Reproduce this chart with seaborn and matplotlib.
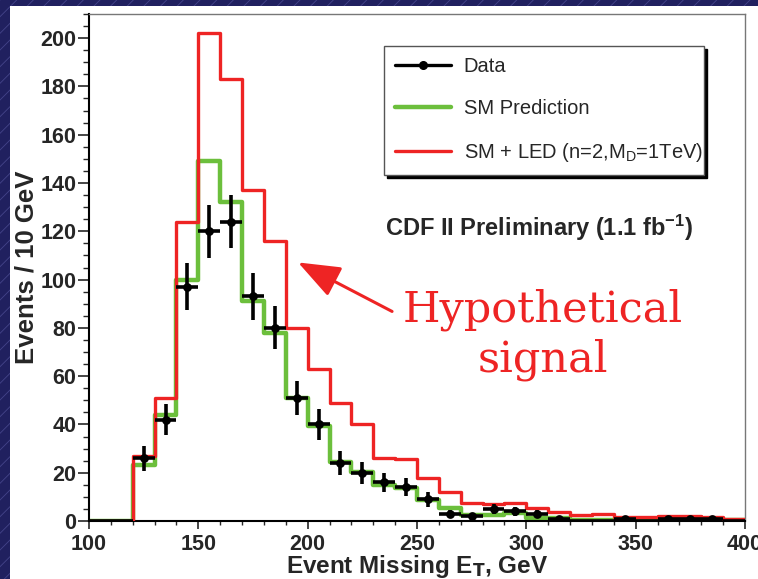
import numpy as np
import matplotlib
matplotlib.use("Agg")
import matplotlib.pyplot as plt
import matplotlib.patches as mpatches
from matplotlib.ticker import MultipleLocator
from matplotlib.lines import Line2D
import seaborn as sns

# ---------------- data ----------------
bin_edges = list(range(100, 410, 10))
bin_centers = [e + 5 for e in bin_edges[:-1]]

sm_led = [0, 0, 27, 51, 124, 202, 183, 137, 116, 80, 63, 49, 40, 26.3, 25.6,
          18, 12, 7.6, 7.0, 7.3, 5.2, 3.6, 2.5, 2.8, 1.8, 1.5, 2.2, 2.2, 1.8, 0.7]
sm_pred = [0, 0, 23, 44, 100, 149, 132, 91, 78, 51, 39.5, 24.5, 20.4, 15, 13.5,
           8.5, 5.2, 2.5, 2.5, 3.2, 1.1, 1.1, 0.6, 0.6, 0.5, 0.5, 0.8, 0.8, 0.6, 0.3]
data_counts = [0, 0, 26, 42, 97, 120, 124, 93, 80, 51, 40, 24, 20, 16, 14,
               9, 3, 2, 5, 4, 3, 1, 0, 0, 1, 0, 1, 1, 1, 0]
data_err = [0, 0, 5.1, 6.5, 9.8, 11.0, 11.1, 9.6, 8.9, 7.1, 6.3, 4.9, 4.5, 4.0, 3.7,
            3.0, 1.7, 1.4, 2.2, 2.0, 1.7, 1.0, 0, 0, 1.0, 0, 1.0, 1.0, 1.0, 0]

x_ticks = [100, 150, 200, 250, 300, 350, 400]
y_ticks = [0, 20, 40, 60, 80, 100, 120, 140, 160, 180, 200]

RED = "#ee2424"
GREEN = "#6cbf3c"
NAVY = "#20205f"

# ---------------- style ----------------
sns.set_style("ticks")
plt.rcParams["font.family"] = ["Liberation Sans", "DejaVu Sans"]
plt.rcParams["hatch.linewidth"] = 0.6
plt.rcParams["mathtext.default"] = "regular"

fig = plt.figure(figsize=(7.58, 5.79), dpi=100, facecolor="white")

# dark striped frame (top and left)
for rect in [(0, 1 - 6 / 579, 1, 6 / 579), (0, 0, 10 / 758, 1)]:
    fig.add_artist(mpatches.Rectangle(rect[:2], rect[2], rect[3],
                                      transform=fig.transFigure,
                                      facecolor=NAVY, edgecolor="#44448a",
                                      hatch="//", linewidth=0, zorder=0))

ax = fig.add_axes([89 / 758, 58 / 579, 656 / 758, 507 / 579])
ax.set_facecolor("white")

sns.histplot(x=bin_centers, weights=sm_pred, bins=bin_edges, element="step",
             fill=False, color=GREEN, linewidth=3.2, ax=ax, zorder=2)
sns.histplot(x=bin_centers, weights=sm_led, bins=bin_edges, element="step",
             fill=False, color=RED, linewidth=2.4, ax=ax, zorder=3)

ax.errorbar(bin_centers, data_counts, xerr=5, yerr=data_err, fmt="none",
            ecolor="black", elinewidth=2.6, capsize=0, zorder=4, clip_on=True)
nz_x = [c for c, v in zip(bin_centers, data_counts) if v > 0]
nz_y = [v for v in data_counts if v > 0]
sns.scatterplot(x=nz_x, y=nz_y, color="black", s=40, edgecolor="black",
                linewidth=0, ax=ax, zorder=5)

ax.set_xlim(100, 400)
ax.set_ylim(0, 210)
ax.set_xticks(x_ticks)
ax.set_yticks(y_ticks)
ax.xaxis.set_minor_locator(MultipleLocator(10))
ax.yaxis.set_minor_locator(MultipleLocator(5))
ax.tick_params(axis="x", which="major", direction="out", length=5.5, width=1.2,
               labelsize=15.5, pad=4)
ax.tick_params(axis="x", which="minor", direction="out", length=3, width=1.0)
ax.tick_params(axis="y", which="major", direction="out", length=8, width=1.2,
               labelsize=15.5, pad=1)
ax.tick_params(axis="y", which="minor", direction="out", length=4.5, width=1.0)
for lab in ax.get_xticklabels() + ax.get_yticklabels():
    lab.set_fontweight("bold")

for side in ["left", "bottom"]:
    ax.spines[side].set_color("black")
    ax.spines[side].set_linewidth(1.5)
for side in ["top", "right"]:
    ax.spines[side].set_visible(True)
    ax.spines[side].set_color("#777777")
    ax.spines[side].set_linewidth(1.0)

ax.set_xlabel("Event Missing E$_\\mathbf{T}$, GeV", fontsize=17.5, fontweight="bold")
ax.xaxis.set_label_coords(0.5, -0.064)
ax.set_ylabel("Events / 10 GeV", fontsize=18.5, fontweight="bold")
ax.yaxis.set_label_coords(-0.077, 0.5)

# legend
handles = [
    Line2D([], [], color="black", lw=2.4, marker="o", markersize=5.5),
    Line2D([], [], color=GREEN, lw=3.2),
    Line2D([], [], color=RED, lw=2.4),
]
labels = ["Data", "SM Prediction", "SM + LED (n=2,M$_D$=1TeV)"]
leg = ax.legend(handles, labels, loc="upper left",
                bbox_to_anchor=(0.4497, 0.9369, 0.4878, 0.0), mode="expand",
                fontsize=14.5, frameon=True, fancybox=False,
                shadow={"color": "black", "alpha": 1.0},
                borderpad=0.55, labelspacing=1.15, handlelength=2.8,
                handletextpad=0.6, borderaxespad=0)
leg.get_frame().set_edgecolor("#555555")
leg.get_frame().set_linewidth(1.0)
leg.get_frame().set_facecolor("white")

ax.text(0.4513, 0.579, "CDF II Preliminary (1.1 fb$^{-1}$)", transform=ax.transAxes,
        fontsize=17, fontweight="bold", ha="left", va="center")

# annotation
ax.annotate("", xy=(195.6, 107.1), xytext=(238.6, 86.8),
            arrowprops=dict(arrowstyle="-|>,head_length=2.6,head_width=1.0",
                            color=RED, lw=2.2, shrinkA=0, shrinkB=0))
ax.text(307.6, 77, "Hypothetical\nsignal", color=RED, fontsize=31,
        family="DejaVu Serif", ha="center", va="center", linespacing=1.22)

fig.savefig("out.png", dpi=100, facecolor="white")
